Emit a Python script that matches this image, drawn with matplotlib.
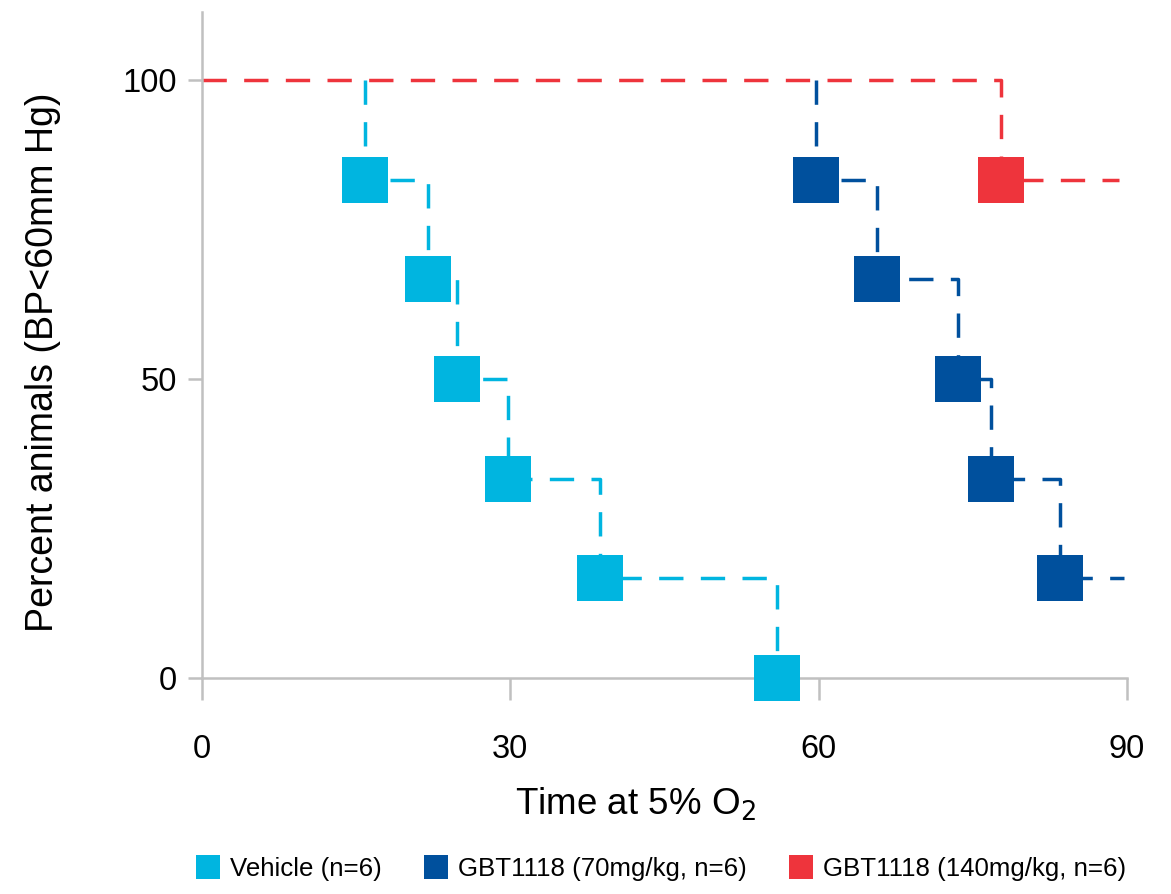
import matplotlib
matplotlib.use("Agg")
import matplotlib.pyplot as plt
from matplotlib.lines import Line2D

plt.rcParams['font.family'] = ['Liberation Sans', 'DejaVu Sans']

# Kaplan-Meier style steps: event times and percent remaining after each event
vehicle_t = [15.9, 21.95, 24.8, 29.8, 38.7, 55.9]
vehicle_pct = [83.3, 66.7, 50, 33.3, 16.7, 0]
vehicle_end = 55.9

gbt70_t = [59.7, 65.7, 73.6, 76.8, 83.5]
gbt70_pct = [83.3, 66.7, 50, 33.3, 16.7]
gbt70_end = 89.7

gbt140_t = [77.7]
gbt140_pct = [83.3]
gbt140_end = 89.2

labels = ['Vehicle (n=6)', 'GBT1118 (70mg/kg, n=6)', 'GBT1118 (140mg/kg, n=6)']
colors = ['#00B5E0', '#00509D', '#EE343C']

grey = '#C0C0C0'


def draw_series(ax, times, pct, end, color, start_x=None, z=2):
    x0 = times[0] if start_x is None else start_x
    xs = [x0] + times + [end]
    ys = [100] + pct + [pct[-1]]
    ax.step(xs, ys, where='post', color=color, lw=2.5,
            linestyle=(0, (7, 5)), zorder=z, clip_on=False)
    ax.plot(times, pct, 's', color=color, markersize=32.5, zorder=z + 3,
            clip_on=False, markeredgewidth=0)


fig = plt.figure(figsize=(11.71, 8.94), dpi=100)
ax = fig.add_axes([0.1725, 0.2416, 0.7899, 0.745])

draw_series(ax, gbt140_t, gbt140_pct, gbt140_end, colors[2], start_x=0, z=1)
draw_series(ax, gbt70_t, gbt70_pct, gbt70_end, colors[1], z=2)
draw_series(ax, vehicle_t, vehicle_pct, vehicle_end, colors[0], z=3)

ax.set_xlim(0, 90)
ax.set_ylim(0, 111.4)
ax.set_xticks([0, 30, 60, 90])
ax.set_yticks([0, 50, 100])

for s in ['top', 'right']:
    ax.spines[s].set_visible(False)
for s in ['left', 'bottom']:
    ax.spines[s].set_color(grey)
    ax.spines[s].set_linewidth(1.8)
ax.spines['left'].set_bounds(0, 111.4)

ax.tick_params(axis='x', length=16, width=1.8, color=grey, pad=24,
               labelsize=23.5)
ax.tick_params(axis='y', length=10, width=1.8, color=grey, pad=8,
               labelsize=23.5)

ax.set_xlabel('Time at 5% O$_2$', fontsize=26.5, labelpad=15)
ax.set_ylabel('Percent animals (BP<60mm Hg)', fontsize=27, labelpad=44)
# labels sit a bit off-centre in the original
ax.xaxis.label.set_x(0.469)
ax.yaxis.label.set_y(0.474)

handles = [Line2D([], [], marker='s', linestyle='none', color=c,
                  markersize=17, markeredgewidth=0) for c in colors]
fig.legend(handles, labels, loc='lower center', ncol=3, frameon=False,
           fontsize=18.6, handlelength=0.8, handletextpad=0.45,
           columnspacing=1.7, bbox_to_anchor=(0.565, -0.011))

fig.savefig('out.png', dpi=100)
